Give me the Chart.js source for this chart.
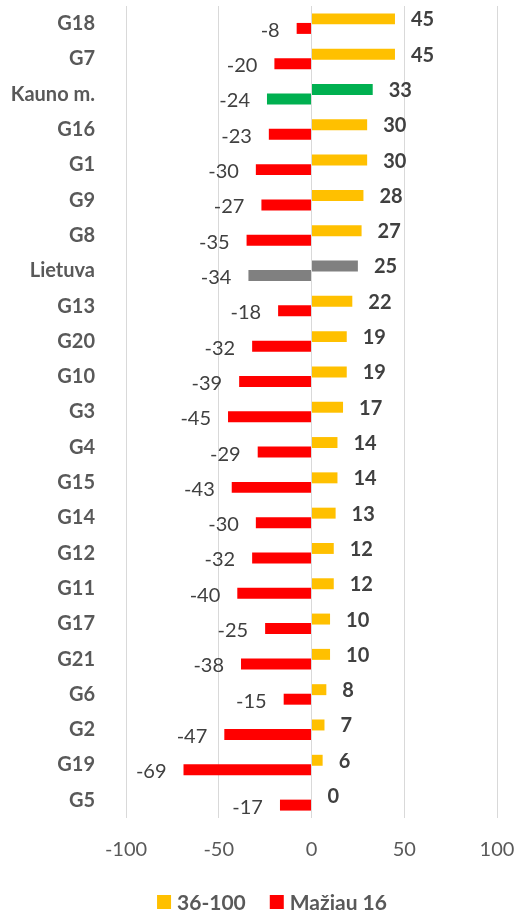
<!DOCTYPE html>
<html>
<head>
<meta charset="utf-8">
<script src="https://cdn.jsdelivr.net/npm/chart.js@4"></script>
<style>
  html, body { margin: 0; padding: 0; background: #fff; overflow: hidden; }
  #wrap { width: 518px; height: 913px; position: relative; }
</style>
</head>
<body>
<div id="wrap"><canvas id="myChart"></canvas></div>
<script>
var categories = ['G18', 'G7', 'Kauno m.', 'G16', 'G1', 'G9', 'G8', 'Lietuva', 'G13', 'G20', 'G10', 'G3',
                  'G4', 'G15', 'G14', 'G12', 'G11', 'G17', 'G21', 'G6', 'G2', 'G19', 'G5']
var older = [45, 45, 33, 30, 30, 28, 27, 25, 22, 19, 19, 17, 14, 14, 13, 12, 12, 10, 10, 8, 7, 6, 0]
var younger = [-8, -20, -24, -23, -30, -27, -35, -34, -18, -32, -39, -45, -29, -43, -30, -32, -40, -25, -38, -15, -47, -69, -17]
var xTicks = [-100, -50, 0, 50, 100]

var olderColor = '#FFC000'
var youngerColor = '#FF0000'
var textColor = '#595959'
var labelColor = '#404040'
var fontFamily = 'Lato, "Open Sans", sans-serif'

function barColor(base) {
  return function (ctx) {
    var name = categories[ctx.dataIndex]
    if (name === 'Kauno m.') return '#00B050'
    if (name === 'Lietuva') return '#808080'
    return base
  }
}

// value labels next to bar ends
var valueLabels = {
  id: 'valueLabels',
  afterDatasetsDraw: function (chart) {
    var ctx = chart.ctx
    ctx.save()
    ctx.fillStyle = labelColor
    ctx.textBaseline = 'middle'
    chart.data.datasets.forEach(function (ds, i) {
      var meta = chart.getDatasetMeta(i)
      meta.data.forEach(function (bar, j) {
        var v = ds.data[j]
        if (v >= 0) {
          ctx.font = 'bold 20px ' + fontFamily
          ctx.textAlign = 'left'
          ctx.fillText(String(v), bar.x + 16, bar.y + 1)
        } else {
          ctx.font = '20px ' + fontFamily
          ctx.textAlign = 'right'
          ctx.fillText(String(v), bar.x - 17, bar.y + 2)
        }
      })
    })
    ctx.restore()
  }
}

// legend drawn by hand so it can sit off-centre like the original
var bottomLegend = {
  id: 'bottomLegend',
  afterDraw: function (chart) {
    var ctx = chart.ctx
    var items = [
      { text: chart.data.datasets[0].label, color: olderColor },
      { text: chart.data.datasets[1].label, color: youngerColor }
    ]
    var box = 14, gap = 6, space = 24, cy = 902
    ctx.save()
    ctx.font = 'bold 21px ' + fontFamily
    ctx.textBaseline = 'middle'
    ctx.textAlign = 'left'
    var total = 0
    items.forEach(function (it, k) {
      it.w = ctx.measureText(it.text).width
      total += box + gap + it.w + (k ? space : 0)
    })
    var x = 272 - total / 2
    items.forEach(function (it) {
      ctx.fillStyle = it.color
      ctx.fillRect(x, cy - box / 2, box, box)
      ctx.fillStyle = textColor
      ctx.fillText(it.text, x + box + gap, cy + 1)
      x += box + gap + it.w + space
    })
    ctx.restore()
  }
}

var chart = new Chart(document.getElementById('myChart').getContext('2d'), {
  type: 'bar',
  data: {
    labels: categories,
    datasets: [
      {
        label: '36-100',
        data: older,
        backgroundColor: barColor(olderColor),
        categoryPercentage: 0.54,
        barPercentage: 1.15
      },
      {
        label: 'Mažiau 16',
        data: younger,
        backgroundColor: barColor(youngerColor),
        categoryPercentage: 0.54,
        barPercentage: 1.15
      }
    ]
  },
  options: {
    indexAxis: 'y',
    responsive: true,
    maintainAspectRatio: false,
    animation: false,
    layout: { padding: { top: 6, right: 21, left: 0, bottom: 0 } },
    scales: {
      x: {
        min: -100,
        max: 100,
        afterBuildTicks: function (scale) {
          scale.ticks = xTicks.map(function (v) { return { value: v } })
        },
        afterFit: function (scale) {
          scale.height = 95
          scale.paddingLeft = 0
          scale.paddingRight = 0
        },
        grid: { color: '#d9d9d9', lineWidth: 1, drawTicks: false },
        border: { display: false },
        ticks: { color: textColor, padding: 20, font: { family: fontFamily, size: 20 } }
      },
      y: {
        afterFit: function (scale) {
          scale.width = 126
          scale.paddingTop = 0
          scale.paddingBottom = 0
        },
        grid: { display: false },
        border: { display: false },
        ticks: { color: textColor, padding: 23, font: { family: fontFamily, size: 20, weight: 'bold' } }
      }
    },
    plugins: {
      legend: { display: false },
      tooltip: { enabled: false }
    }
  },
  plugins: [valueLabels, bottomLegend]
})
</script>
</body>
</html>
